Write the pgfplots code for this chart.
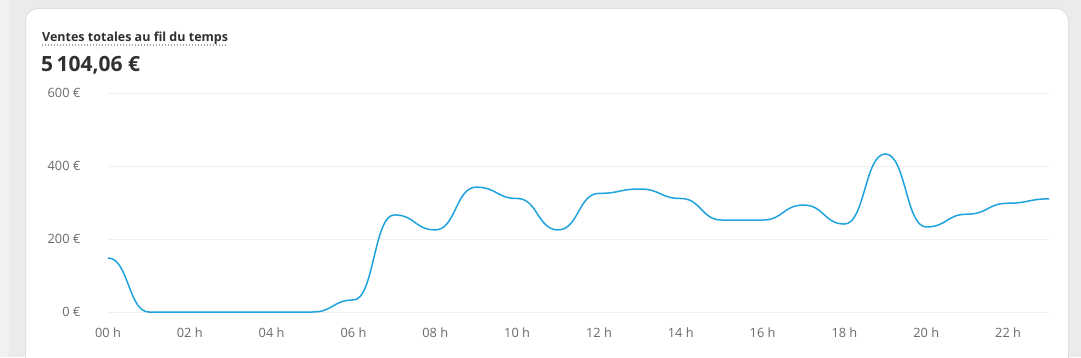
\documentclass[border=0pt]{standalone}
\usepackage{fontspec}
\setmainfont{Open Sans}
\usepackage{pgfplots}
\pgfplotsset{compat=1.18}
\definecolor{bg}{HTML}{EBEBEB}
\definecolor{bgl}{HTML}{F1F1F1}
\definecolor{cardborder}{HTML}{E0E0E0}
\definecolor{titlec}{HTML}{303030}
\definecolor{tickc}{HTML}{6B6B6B}
\definecolor{gridc}{HTML}{EFEFEF}
\definecolor{linec}{HTML}{1FA3DE}
\makeatletter
% "bump" curve: horizontal tangent at every point (like d3 curveBumpX)
\def\bump@point#1{%
  \pgf@process{#1}%
  \xdef\bump@nx{\pgf@sys@tonumber\pgf@x}%
  \xdef\bump@ny{\pgf@sys@tonumber\pgf@y}%
  \ifnum\bump@count=0\relax
    \pgfpathmoveto{\pgfqpoint{\pgf@x}{\pgf@y}}%
    \gdef\bump@count{1}%
  \else
    \pgfmathsetmacro\bump@mx{(\bump@px+\bump@nx)/2}%
    \pgfpathcurveto{\pgfpoint{\bump@mx pt}{\bump@py pt}}{\pgfpoint{\bump@mx pt}{\bump@ny pt}}{\pgfpoint{\bump@nx pt}{\bump@ny pt}}%
  \fi
  \global\let\bump@px\bump@nx
  \global\let\bump@py\bump@ny
}
\gdef\bump@count{0}
\pgfdeclareplothandler{\pgfplothandlerbump}{}{%
  start={\gdef\bump@count{0}},
  point macro=\bump@point,
  end={\gdef\bump@count{0}}%
}
\tikzset{bump/.code={\let\tikz@plot@handler=\pgfplothandlerbump}}
\makeatother
\begin{document}
\begin{tikzpicture}[x=1pt,y=1pt]
\useasboundingbox (0,0) rectangle (1081,357);
\clip (0,0) rectangle (1081,357);
\fill[bg] (0,0) rectangle (1081,357);
\fill[bgl] (0,0) rectangle (9,357);
\draw[cardborder, fill=white, rounded corners=12pt, line width=1pt] (25.5,-30) rectangle (1068.5,348.5);
\node[anchor=base west, inner sep=0, text=titlec, font=\fontsize{12.5}{15}\selectfont\bfseries] at (42,316) {Ventes totales au fil du temps};
\draw[gray!70, line width=1.2pt, dash pattern=on 1.3pt off 1.7pt] (42,312) -- (227,312);
\node[anchor=base west, inner sep=0, text=titlec, font=\fontsize{21}{25}\selectfont\bfseries] at (41,286) {5\,104,06 €};
\begin{axis}[
  at={(108pt,45pt)}, anchor=south west,
  scale only axis, width=941pt, height=219pt,
  xmin=0, xmax=23, ymin=0, ymax=600,
  clip=false,
  axis line style={draw=none},
  tick style={draw=none},
  major tick length=0pt,
  ymajorgrids, grid style={gridc, line width=1pt},
  xtick={0,2,4,6,8,10,12,14,16,18,20,22},
  xticklabels={00 h,02 h,04 h,06 h,08 h,10 h,12 h,14 h,16 h,18 h,20 h,22 h},
  ytick={0,200,400,600},
  yticklabels={0 €,200 €,400 €,600 €},
  ticklabel style={font=\fontsize{12.8}{15}\selectfont, text=tickc},
  yticklabel style={anchor=east, xshift=-24pt},
  xticklabel style={anchor=north, yshift=-12pt},
]
\addplot[linec, line width=1.5pt, bump] coordinates {
(0,148) (1,0) (2,0) (3,0) (4,0) (5,0) (6,33) (7,266) (8,225) (9,342)
(10,311) (11,225) (12,325) (13,337) (14,311) (15,252) (16,252) (17,293)
(18,241) (19,433) (20,233) (21,268) (22,298) (23,310)
};
\end{axis}
\end{tikzpicture}
\end{document}
